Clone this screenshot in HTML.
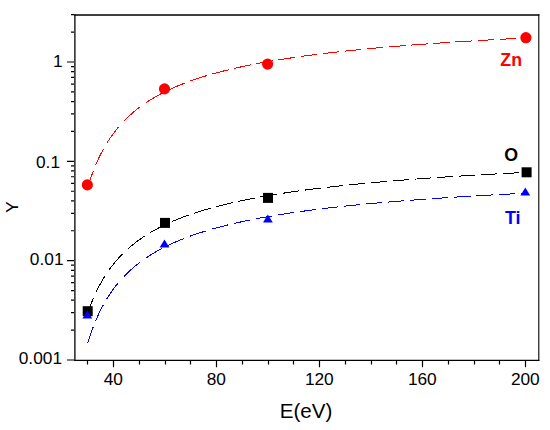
<!DOCTYPE html>
<html><head><meta charset="utf-8"><style>
html,body{margin:0;padding:0;background:#fff;}
svg{display:block;}
.tl{font-family:"Liberation Sans",sans-serif;font-size:17.3px;fill:#000;}
.at{font-family:"Liberation Sans",sans-serif;font-size:20.6px;fill:#000;}
.yt{font-family:"Liberation Sans",sans-serif;font-size:17px;fill:#000;}
.lb{font-family:"Liberation Sans",sans-serif;font-size:17.8px;font-weight:bold;}
</style></head><body>
<svg width="550" height="430" viewBox="0 0 550 430">
<rect width="550" height="430" fill="#fff"/>
<path d="M74.25,15.0 H539.3499999999999" stroke="#000" stroke-width="1.3"/>
<path d="M74.25,360.3 H539.3499999999999" stroke="#000" stroke-width="1.2"/>
<path d="M74.9,14.35 V360.90000000000003" stroke="#000" stroke-width="1.3"/>
<path d="M538.8,14.35 V360.90000000000003" stroke="#000" stroke-width="1.1"/>
<path d="M87.5,361 v3.4 M113.5,361 v6.3 M139.5,361 v3.4 M165.5,361 v3.4 M190.5,361 v3.4 M216.5,361 v6.3 M242.5,361 v3.4 M268.5,361 v3.4 M293.5,361 v3.4 M319.5,361 v6.3 M345.5,361 v3.4 M371.5,361 v3.4 M396.5,361 v3.4 M422.5,361 v6.3 M448.5,361 v3.4 M474.5,361 v3.4 M499.5,361 v3.4 M525.5,361 v6.3 M67,360.00 h7 M71,330.10 h3 M71,312.61 h3 M71,300.20 h3 M71,290.57 h3 M71,282.71 h3 M71,276.06 h3 M71,270.30 h3 M71,265.22 h3 M67,260.67 h7 M71,230.77 h3 M71,213.28 h3 M71,200.87 h3 M71,191.24 h3 M71,183.38 h3 M71,176.73 h3 M71,170.97 h3 M71,165.89 h3 M67,161.34 h7 M71,131.44 h3 M71,113.95 h3 M71,101.54 h3 M71,91.91 h3 M71,84.05 h3 M71,77.40 h3 M71,71.64 h3 M71,66.56 h3 M67,62.01 h7 M71,32.11 h3 M71,14.62 h3" stroke="#000" stroke-width="1.2" fill="none"/>
<text x="113.3" y="385.2" text-anchor="middle" class="tl">40</text>
<text x="216.3" y="385.2" text-anchor="middle" class="tl">80</text>
<text x="319.3" y="385.2" text-anchor="middle" class="tl">120</text>
<text x="422.3" y="385.2" text-anchor="middle" class="tl">160</text>
<text x="525.3" y="385.2" text-anchor="middle" class="tl">200</text>
<text x="62.6" y="67.0" text-anchor="end" class="tl">1</text>
<text x="60.0" y="168.2" text-anchor="end" class="tl">0.1</text>
<text x="63.5" y="264.7" text-anchor="end" class="tl">0.01</text>
<text x="62" y="363.8" text-anchor="end" class="tl">0.001</text>
<text x="306.0" y="417.6" text-anchor="middle" class="at">E(eV)</text>
<text transform="translate(18,207) rotate(-90)" text-anchor="middle" class="yt">Y</text>
<path d="M87.88,187.10 L87.95,186.86 L88.39,185.41 L88.82,183.99 L89.26,182.60 L89.70,181.24 L90.14,179.90 L90.57,178.60 L91.01,177.31 L91.45,176.06 L91.89,174.83 L92.33,173.62 L92.76,172.43 L93.20,171.27 L93.32,170.97 M95.59,165.29 L95.61,165.23 L96.27,163.69 L96.92,162.18 L97.58,160.71 L98.24,159.27 L98.89,157.87 L99.55,156.50 L100.21,155.16 L100.86,153.86 L101.52,152.58 L102.18,151.33 L102.83,150.11 L103.49,148.91 L103.51,148.87 M106.84,143.19 L106.85,143.18 L107.80,141.66 L108.74,140.19 L109.69,138.75 L110.64,137.36 L111.59,136.00 L112.54,134.68 L113.49,133.39 L114.44,132.13 L115.38,130.91 L116.33,129.71 L117.28,128.55 L118.23,127.41 L118.77,126.77 M123.92,121.09 L124.00,121.02 L125.31,119.68 L126.62,118.38 L127.94,117.11 L129.25,115.88 L130.56,114.69 L131.88,113.52 L133.19,112.39 L134.50,111.29 L135.82,110.21 L137.13,109.16 L138.44,108.14 L139.76,107.14 L140.32,106.73 M146.00,102.72 L146.03,102.69 L147.35,101.82 L148.66,100.97 L149.97,100.14 L151.29,99.32 L152.60,98.52 L153.91,97.74 L155.23,96.98 L156.54,96.23 L157.85,95.49 L159.17,94.77 L160.48,94.07 L161.79,93.38 L162.42,93.05 M168.10,90.23 L168.14,90.21 L169.46,89.59 L170.77,88.98 L172.08,88.38 L173.40,87.79 L174.71,87.22 L176.02,86.65 L177.34,86.09 L178.65,85.54 L179.96,85.00 L181.28,84.47 L182.59,83.95 L183.90,83.43 L184.52,83.20 M190.20,81.08 L190.25,81.06 L191.57,80.59 L192.88,80.13 L194.19,79.68 L195.51,79.23 L196.82,78.79 L198.13,78.35 L199.45,77.92 L200.76,77.50 L202.07,77.08 L203.39,76.67 L204.70,76.27 L206.01,75.87 L206.62,75.68 M212.30,74.03 L212.36,74.01 L213.68,73.64 L214.99,73.27 L216.30,72.91 L217.62,72.56 L218.93,72.21 L220.24,71.86 L221.56,71.52 L222.87,71.18 L224.18,70.85 L225.50,70.52 L226.81,70.19 L228.12,69.87 L228.72,69.73 M234.40,68.39 L234.40,68.38 L235.71,68.08 L237.03,67.79 L238.34,67.49 L239.65,67.20 L240.97,66.92 L242.28,66.63 L243.59,66.35 L244.91,66.07 L246.22,65.80 L247.53,65.53 L248.85,65.26 L250.16,64.99 L250.82,64.86 M256.50,63.75 L256.51,63.75 L257.82,63.50 L259.14,63.25 L260.45,63.00 L261.76,62.76 L263.08,62.52 L264.39,62.28 L265.70,62.05 L267.02,61.82 L268.33,61.58 L269.64,61.36 L270.96,61.13 L272.27,60.91 L272.92,60.80 M278.60,59.86 L278.62,59.85 L279.93,59.64 L281.25,59.43 L282.56,59.22 L283.87,59.02 L285.19,58.81 L286.50,58.61 L287.81,58.41 L289.13,58.21 L290.44,58.01 L291.75,57.82 L293.07,57.62 L294.38,57.43 L295.02,57.34 M300.70,56.53 L300.73,56.53 L302.04,56.34 L303.36,56.16 L304.67,55.98 L305.98,55.81 L307.30,55.63 L308.61,55.45 L309.92,55.28 L311.24,55.11 L312.55,54.94 L313.86,54.77 L315.18,54.60 L316.49,54.43 L317.12,54.35 M322.80,53.65 L322.84,53.64 L324.15,53.49 L325.47,53.33 L326.78,53.17 L328.09,53.01 L329.41,52.86 L330.72,52.71 L332.03,52.56 L333.35,52.40 L334.66,52.25 L335.97,52.11 L337.29,51.96 L338.60,51.81 L339.22,51.74 M344.90,51.12 L344.95,51.12 L346.26,50.98 L347.58,50.84 L348.89,50.70 L350.20,50.56 L351.52,50.43 L352.83,50.29 L354.14,50.16 L355.46,50.02 L356.77,49.89 L358.08,49.76 L359.40,49.63 L360.71,49.50 L361.32,49.44 M367.00,48.89 L367.06,48.88 L368.37,48.76 L369.69,48.63 L371.00,48.51 L372.31,48.39 L373.63,48.26 L374.94,48.14 L376.25,48.02 L377.57,47.90 L378.88,47.79 L380.19,47.67 L381.51,47.55 L382.82,47.44 L383.42,47.38 M389.10,46.89 L389.10,46.89 L390.41,46.78 L391.72,46.67 L393.04,46.56 L394.35,46.45 L395.66,46.34 L396.98,46.23 L398.29,46.12 L399.60,46.01 L400.92,45.91 L402.23,45.80 L403.55,45.69 L404.86,45.59 L405.52,45.54 M411.20,45.09 L411.21,45.09 L412.52,44.99 L413.83,44.89 L415.15,44.79 L416.46,44.69 L417.77,44.59 L419.09,44.49 L420.40,44.40 L421.72,44.30 L423.03,44.20 L424.34,44.11 L425.66,44.01 L426.97,43.91 L427.62,43.87 M433.30,43.46 L433.32,43.46 L434.63,43.37 L435.94,43.28 L437.26,43.19 L438.57,43.10 L439.88,43.01 L441.20,42.92 L442.51,42.83 L443.83,42.74 L445.14,42.65 L446.45,42.57 L447.77,42.48 L449.08,42.39 L449.72,42.35 M455.40,41.98 L455.43,41.98 L456.74,41.89 L458.05,41.81 L459.37,41.73 L460.68,41.65 L461.99,41.56 L463.31,41.48 L464.62,41.40 L465.94,41.32 L467.25,41.24 L468.56,41.16 L469.88,41.08 L471.19,41.00 L471.82,40.96 M477.50,40.62 L477.54,40.62 L478.85,40.54 L480.16,40.47 L481.48,40.39 L482.79,40.31 L484.10,40.24 L485.42,40.16 L486.73,40.09 L488.05,40.01 L489.36,39.94 L490.67,39.87 L491.99,39.79 L493.30,39.72 L493.92,39.68 M499.60,39.37 L499.65,39.37 L500.96,39.30 L502.27,39.23 L503.59,39.16 L504.90,39.09 L506.21,39.02 L507.53,38.95 L508.84,38.88 L510.16,38.81 L511.47,38.74 L512.78,38.67 L514.10,38.61 L515.41,38.54 L516.02,38.51 M521.70,38.22 L521.76,38.22 L522.05,38.20 L522.34,38.19 L522.63,38.17 L522.93,38.16 L523.22,38.14 L523.51,38.13 L523.80,38.11 L524.09,38.10 L524.38,38.08 L524.68,38.07 L524.97,38.05 L525.26,38.04 L525.55,38.03 L525.62,38.02" fill="none" stroke="#ff0000" stroke-width="1" shape-rendering="crispEdges"/>
<path d="M87.88,312.75 L87.95,312.54 L88.39,311.26 L88.82,310.01 L89.26,308.78 L89.70,307.57 L90.14,306.39 L90.57,305.23 L91.01,304.09 L91.45,302.97 L91.89,301.87 L92.33,300.79 L92.76,299.73 L93.20,298.69 L93.37,298.29 M95.96,292.52 L95.97,292.48 L96.70,290.95 L97.43,289.46 L98.16,288.01 L98.89,286.59 L99.62,285.21 L100.35,283.86 L101.08,282.55 L101.81,281.26 L102.54,280.01 L103.27,278.78 L104.00,277.58 L104.73,276.41 L104.85,276.23 M108.70,270.46 L108.74,270.39 L109.84,268.87 L110.93,267.39 L112.03,265.95 L113.12,264.55 L114.22,263.19 L115.31,261.87 L116.41,260.59 L117.50,259.34 L118.60,258.12 L119.69,256.93 L120.78,255.78 L121.88,254.65 L122.35,254.17 M128.12,248.71 L128.15,248.68 L129.47,247.53 L130.78,246.40 L132.10,245.31 L133.41,244.25 L134.72,243.21 L136.04,242.20 L137.35,241.21 L138.66,240.24 L139.98,239.30 L141.29,238.38 L142.60,237.49 L143.92,236.61 L144.41,236.28 M150.18,232.68 L150.19,232.67 L151.51,231.90 L152.82,231.14 L154.13,230.39 L155.45,229.67 L156.76,228.95 L158.07,228.25 L159.39,227.57 L160.70,226.89 L162.01,226.23 L163.33,225.59 L164.64,224.95 L165.95,224.33 L166.47,224.08 M172.24,221.49 L172.30,221.46 L173.62,220.90 L174.93,220.35 L176.24,219.80 L177.56,219.27 L178.87,218.74 L180.18,218.22 L181.50,217.71 L182.81,217.21 L184.12,216.72 L185.44,216.23 L186.75,215.75 L188.06,215.28 L188.53,215.12 M194.30,213.14 L194.34,213.13 L195.65,212.69 L196.97,212.27 L198.28,211.85 L199.59,211.43 L200.91,211.03 L202.22,210.62 L203.53,210.23 L204.85,209.84 L206.16,209.45 L207.47,209.07 L208.79,208.69 L210.10,208.32 L210.59,208.18 M216.36,206.62 L216.38,206.61 L217.69,206.27 L219.00,205.93 L220.32,205.59 L221.63,205.26 L222.94,204.93 L224.26,204.61 L225.57,204.29 L226.88,203.97 L228.20,203.66 L229.51,203.35 L230.82,203.05 L232.14,202.75 L232.65,202.63 M238.42,201.35 L238.49,201.34 L239.80,201.05 L241.11,200.77 L242.43,200.50 L243.74,200.23 L245.05,199.95 L246.37,199.69 L247.68,199.42 L248.99,199.16 L250.31,198.90 L251.62,198.65 L252.93,198.39 L254.25,198.14 L254.71,198.06 M260.48,196.99 L260.52,196.98 L261.84,196.74 L263.15,196.51 L264.46,196.28 L265.78,196.05 L267.09,195.82 L268.40,195.59 L269.72,195.37 L271.03,195.15 L272.34,194.93 L273.66,194.71 L274.97,194.50 L276.28,194.29 L276.77,194.21 M282.53,193.30 L282.56,193.30 L283.87,193.10 L285.19,192.90 L286.50,192.70 L287.81,192.50 L289.13,192.31 L290.44,192.11 L291.75,191.92 L293.07,191.73 L294.38,191.54 L295.69,191.36 L297.01,191.17 L298.32,190.99 L298.82,190.92 M304.59,190.14 L304.60,190.13 L305.91,189.96 L307.22,189.79 L308.54,189.62 L309.85,189.44 L311.16,189.28 L312.48,189.11 L313.79,188.94 L315.11,188.78 L316.42,188.61 L317.73,188.45 L319.05,188.29 L320.36,188.13 L320.88,188.07 M326.65,187.38 L326.71,187.37 L328.02,187.22 L329.33,187.07 L330.65,186.92 L331.96,186.77 L333.27,186.62 L334.59,186.47 L335.90,186.33 L337.22,186.18 L338.53,186.04 L339.84,185.89 L341.16,185.75 L342.47,185.61 L342.94,185.56 M348.71,184.96 L348.74,184.95 L350.06,184.82 L351.37,184.68 L352.68,184.55 L354.00,184.42 L355.31,184.28 L356.63,184.15 L357.94,184.02 L359.25,183.90 L360.57,183.77 L361.88,183.64 L363.19,183.51 L364.51,183.39 L365.00,183.34 M370.77,182.80 L370.78,182.80 L372.10,182.68 L373.41,182.56 L374.72,182.44 L376.04,182.32 L377.35,182.20 L378.66,182.09 L379.98,181.97 L381.29,181.86 L382.60,181.74 L383.92,181.63 L385.23,181.51 L386.54,181.40 L387.06,181.36 M392.83,180.87 L392.89,180.87 L394.21,180.76 L395.52,180.65 L396.83,180.54 L398.15,180.44 L399.46,180.33 L400.77,180.22 L402.09,180.12 L403.40,180.02 L404.71,179.91 L406.03,179.81 L407.34,179.71 L408.65,179.61 L409.12,179.57 M414.89,179.13 L414.93,179.13 L416.24,179.03 L417.56,178.93 L418.87,178.83 L420.18,178.74 L421.50,178.64 L422.81,178.55 L424.12,178.45 L425.44,178.36 L426.75,178.26 L428.06,178.17 L429.38,178.08 L430.69,177.98 L431.18,177.95 M436.95,177.55 L436.97,177.55 L438.28,177.46 L439.59,177.37 L440.91,177.28 L442.22,177.19 L443.53,177.10 L444.85,177.02 L446.16,176.93 L447.47,176.84 L448.79,176.76 L450.10,176.67 L451.41,176.59 L452.73,176.50 L453.24,176.47 M459.01,176.11 L459.08,176.10 L460.39,176.02 L461.70,175.94 L463.02,175.86 L464.33,175.78 L465.64,175.70 L466.96,175.62 L468.27,175.54 L469.58,175.46 L470.90,175.38 L472.21,175.30 L473.52,175.22 L474.84,175.14 L475.30,175.12 M481.07,174.78 L481.11,174.78 L482.43,174.70 L483.74,174.63 L485.05,174.55 L486.37,174.48 L487.68,174.41 L488.99,174.33 L490.31,174.26 L491.62,174.19 L492.93,174.11 L494.25,174.04 L495.56,173.97 L496.87,173.90 L497.36,173.87 M503.12,173.56 L503.15,173.56 L504.46,173.49 L505.78,173.42 L507.09,173.35 L508.40,173.28 L509.72,173.21 L511.03,173.15 L512.34,173.08 L513.66,173.01 L514.97,172.94 L516.28,172.88 L517.60,172.81 L518.91,172.74 L519.41,172.72 M525.18,172.43 L525.19,172.43 L525.26,172.43 L525.33,172.42 L525.41,172.42 L525.48,172.42 L525.55,172.41 L525.62,172.41" fill="none" stroke="#000000" stroke-width="1" shape-rendering="crispEdges"/>
<path d="M87.88,342.64 L87.95,342.40 L88.39,340.97 L88.82,339.56 L89.26,338.19 L89.70,336.84 L90.14,335.51 L90.57,334.22 L91.01,332.94 L91.45,331.70 L91.89,330.47 L92.33,329.27 L92.76,328.09 L93.20,326.93 L93.25,326.79 M95.66,320.79 L95.68,320.73 L96.27,319.36 L96.85,318.02 L97.43,316.70 L98.02,315.42 L98.60,314.16 L99.19,312.93 L99.77,311.72 L100.35,310.53 L100.94,309.37 L101.52,308.24 L102.10,307.12 L102.69,306.03 L103.27,304.95 L103.39,304.74 M106.88,298.74 L106.92,298.67 L107.87,297.15 L108.82,295.67 L109.77,294.23 L110.71,292.83 L111.66,291.47 L112.61,290.14 L113.56,288.84 L114.51,287.58 L115.46,286.34 L116.41,285.14 L117.36,283.97 L118.30,282.82 L118.41,282.69 M123.77,276.70 L123.78,276.69 L125.09,275.33 L126.40,274.01 L127.72,272.73 L129.03,271.48 L130.34,270.26 L131.66,269.08 L132.97,267.93 L134.28,266.81 L135.60,265.72 L136.91,264.66 L138.22,263.62 L139.54,262.61 L139.76,262.44 M145.76,258.13 L145.81,258.10 L147.13,257.21 L148.44,256.35 L149.75,255.51 L151.07,254.68 L152.38,253.87 L153.69,253.08 L155.01,252.30 L156.32,251.54 L157.63,250.80 L158.95,250.07 L160.26,249.36 L161.58,248.65 L161.81,248.53 M167.81,245.50 L167.85,245.48 L169.16,244.86 L170.48,244.24 L171.79,243.63 L173.10,243.04 L174.42,242.45 L175.73,241.88 L177.04,241.31 L178.36,240.76 L179.67,240.21 L180.99,239.67 L182.30,239.15 L183.61,238.63 L183.86,238.53 M189.86,236.26 L189.89,236.25 L191.20,235.78 L192.51,235.31 L193.83,234.85 L195.14,234.40 L196.46,233.95 L197.77,233.51 L199.08,233.08 L200.40,232.65 L201.71,232.23 L203.02,231.82 L204.34,231.41 L205.65,231.00 L205.91,230.92 M211.91,229.16 L211.92,229.15 L213.24,228.78 L214.55,228.41 L215.87,228.05 L217.18,227.69 L218.49,227.33 L219.81,226.99 L221.12,226.64 L222.43,226.30 L223.75,225.96 L225.06,225.63 L226.37,225.30 L227.69,224.98 L227.96,224.91 M233.96,223.48 L233.96,223.48 L235.28,223.18 L236.59,222.88 L237.90,222.59 L239.22,222.29 L240.53,222.01 L241.84,221.72 L243.16,221.44 L244.47,221.16 L245.78,220.88 L247.10,220.61 L248.41,220.34 L249.72,220.07 L250.01,220.01 M256.01,218.83 L256.07,218.82 L257.39,218.57 L258.70,218.32 L260.01,218.07 L261.33,217.83 L262.64,217.59 L263.95,217.35 L265.27,217.12 L266.58,216.88 L267.89,216.65 L269.21,216.42 L270.52,216.20 L271.83,215.97 L272.06,215.93 M278.06,214.94 L278.11,214.93 L279.42,214.71 L280.74,214.50 L282.05,214.30 L283.36,214.09 L284.68,213.88 L285.99,213.68 L287.30,213.48 L288.62,213.28 L289.93,213.08 L291.24,212.89 L292.56,212.70 L293.87,212.50 L294.11,212.47 M300.11,211.61 L300.15,211.61 L301.46,211.43 L302.77,211.24 L304.09,211.07 L305.40,210.89 L306.71,210.71 L308.03,210.54 L309.34,210.36 L310.65,210.19 L311.97,210.02 L313.28,209.85 L314.59,209.68 L315.91,209.52 L316.16,209.48 M322.16,208.74 L322.18,208.74 L323.50,208.58 L324.81,208.42 L326.12,208.27 L327.44,208.11 L328.75,207.96 L330.06,207.80 L331.38,207.65 L332.69,207.50 L334.00,207.35 L335.32,207.20 L336.63,207.06 L337.94,206.91 L338.21,206.88 M344.20,206.23 L344.22,206.23 L345.53,206.09 L346.85,205.95 L348.16,205.81 L349.47,205.67 L350.79,205.54 L352.10,205.40 L353.41,205.27 L354.73,205.14 L356.04,205.00 L357.36,204.87 L358.67,204.74 L359.98,204.61 L360.25,204.59 M366.25,204.01 L366.26,204.01 L367.57,203.88 L368.88,203.76 L370.20,203.64 L371.51,203.52 L372.82,203.40 L374.14,203.28 L375.45,203.16 L376.77,203.04 L378.08,202.92 L379.39,202.80 L380.71,202.69 L382.02,202.57 L382.30,202.55 M388.30,202.03 L388.37,202.02 L389.68,201.91 L390.99,201.80 L392.31,201.69 L393.62,201.58 L394.93,201.47 L396.25,201.37 L397.56,201.26 L398.88,201.15 L400.19,201.05 L401.50,200.94 L402.82,200.84 L404.13,200.73 L404.35,200.72 M410.35,200.25 L410.40,200.25 L411.72,200.15 L413.03,200.05 L414.34,199.95 L415.66,199.85 L416.97,199.75 L418.29,199.65 L419.60,199.56 L420.91,199.46 L422.23,199.37 L423.54,199.27 L424.85,199.18 L426.17,199.08 L426.40,199.07 M432.40,198.64 L432.44,198.64 L433.76,198.55 L435.07,198.46 L436.38,198.37 L437.70,198.28 L439.01,198.19 L440.32,198.10 L441.64,198.01 L442.95,197.93 L444.26,197.84 L445.58,197.75 L446.89,197.67 L448.20,197.58 L448.45,197.57 M454.45,197.18 L454.48,197.18 L455.79,197.10 L457.11,197.01 L458.42,196.93 L459.73,196.85 L461.05,196.77 L462.36,196.69 L463.67,196.61 L464.99,196.53 L466.30,196.45 L467.61,196.37 L468.93,196.29 L470.24,196.21 L470.50,196.20 M476.50,195.84 L476.52,195.84 L477.83,195.77 L479.14,195.69 L480.46,195.62 L481.77,195.54 L483.08,195.47 L484.40,195.39 L485.71,195.32 L487.02,195.24 L488.34,195.17 L489.65,195.10 L490.96,195.03 L492.28,194.95 L492.55,194.94 M498.55,194.62 L498.55,194.62 L499.87,194.55 L501.18,194.48 L502.49,194.41 L503.81,194.34 L505.12,194.27 L506.43,194.20 L507.75,194.13 L509.06,194.06 L510.37,194.00 L511.69,193.93 L513.00,193.86 L514.31,193.80 L514.60,193.78 M520.60,193.48 L520.66,193.48 L521.03,193.46 L521.39,193.44 L521.76,193.43 L522.12,193.41 L522.49,193.39 L522.85,193.37 L523.22,193.35 L523.58,193.34 L523.95,193.32 L524.31,193.30 L524.68,193.28 L525.04,193.26 L525.41,193.25 L525.62,193.24" fill="none" stroke="#0000ff" stroke-width="1" shape-rendering="crispEdges"/>
<circle cx="87.35" cy="184.9" r="5.6" fill="#ff0000"/>
<circle cx="164.5" cy="88.9" r="5.6" fill="#ff0000"/>
<circle cx="267.6" cy="64.1" r="5.6" fill="#ff0000"/>
<circle cx="525.9" cy="37.7" r="5.6" fill="#ff0000"/>
<rect x="82.7" y="306.2" width="10" height="10" fill="#000"/>
<rect x="160.0" y="217.9" width="10" height="10" fill="#000"/>
<rect x="263.0" y="192.9" width="10" height="10" fill="#000"/>
<rect x="521.6" y="167.3" width="10" height="10" fill="#000"/>
<path d="M87.3,310.5 L92.2,318.5 L82.39999999999999,318.5 Z" fill="#0000ff"/>
<path d="M164.5,239.5 L169.4,247.5 L159.6,247.5 Z" fill="#0000ff"/>
<path d="M267.9,214.6 L272.79999999999995,222.6 L263.0,222.6 Z" fill="#0000ff"/>
<path d="M525.3,187.6 L530.1999999999999,195.6 L520.4,195.6 Z" fill="#0000ff"/>
<text x="500.3" y="65.8" class="lb" fill="#ff0000">Zn</text>
<text x="504.3" y="160.6" class="lb" fill="#000">O</text>
<text x="505" y="224.4" class="lb" fill="#0000ff">Ti</text>
</svg>
</body></html>
